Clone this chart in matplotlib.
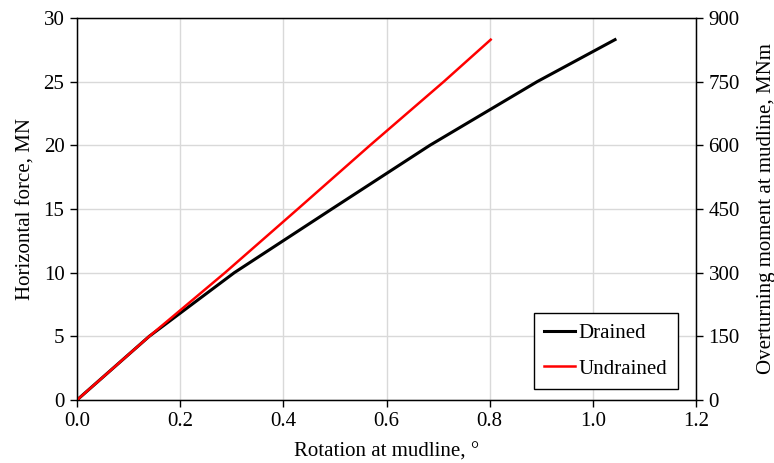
import matplotlib
matplotlib.use("Agg")
import matplotlib.pyplot as plt

drained_x = [0.0, 0.14, 0.305, 0.494, 0.684, 0.892, 1.043]
drained_y = [0.0, 5.0, 10.0, 15.0, 20.0, 25.0, 28.3]
undrained_x = [0.0, 0.14, 0.287, 0.428, 0.568, 0.711, 0.802]
undrained_y = [0.0, 5.0, 10.0, 15.0, 20.0, 25.0, 28.3]

x_ticks = [0.0, 0.2, 0.4, 0.6, 0.8, 1.0, 1.2]
left_ticks = [0, 5, 10, 15, 20, 25, 30]
right_ticks = [0, 150, 300, 450, 600, 750, 900]

plt.rcParams['font.family'] = ['Liberation Serif', 'DejaVu Serif']
plt.rcParams['font.size'] = 15

fig = plt.figure(figsize=(7.74, 4.63), dpi=100)
ax = fig.add_axes([77/774, 63/463, (696-77)/774, (400-18)/463])

ax.plot(drained_x, drained_y, color='black', lw=2.2, label='Drained', zorder=3)
ax.plot(undrained_x, undrained_y, color='#ff0000', lw=1.8, label='Undrained', zorder=3)

ax.set_xlim(0, 1.2)
ax.set_ylim(0, 30)
ax.set_xticks(x_ticks)
ax.set_xticklabels([f"{v:.1f}" for v in x_ticks])
ax.set_yticks(left_ticks)
ax.grid(True, color='#d9d9d9', lw=1.0)
ax.set_axisbelow(True)
ax.tick_params(direction='out', length=5, width=1, colors='black', pad=4)
for s in ax.spines.values():
    s.set_color('black')
    s.set_linewidth(1)
ax.set_xlabel('Rotation at mudline, °', labelpad=8)
ax.set_ylabel('Horizontal force, MN', labelpad=6)

ax2 = ax.twinx()
ax2.set_ylim(0, 900)
ax2.set_yticks(right_ticks)
ax2.tick_params(direction='out', length=5, width=1, pad=4)
ax2.set_ylabel('Overturning moment at mudline, MNm', labelpad=12)

leg = ax.legend(loc='lower right', bbox_to_anchor=(678/774, (463-389)/463),
                bbox_transform=fig.transFigure, fancybox=False,
                edgecolor='black', framealpha=1, handlelength=1.45, handletextpad=0.2,
                borderpad=0.5, labelspacing=0.75, borderaxespad=0)
leg.get_frame().set_linewidth(1)

fig.savefig('out.png', dpi=100)
